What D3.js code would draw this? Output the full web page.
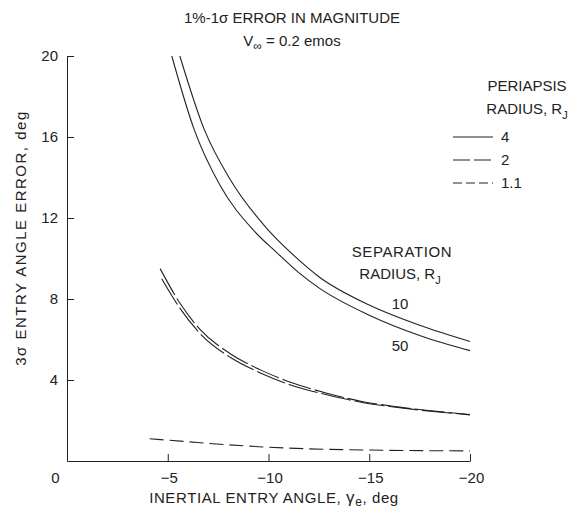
<!DOCTYPE html>
<html><head><meta charset="utf-8">
<script src="https://cdn.jsdelivr.net/npm/d3@7"></script>
<style>
body{margin:0;background:#fff;}
svg text{font-family:"Liberation Sans",Arial,sans-serif;fill:#222;}
</style></head>
<body><svg id="c" width="580" height="517"></svg>
<script>
// ---- data ----
const xTicks = [0, -5, -10, -15, -20];
const yTicks = [4, 8, 12, 16, 20];
// periapsis 4 R_J, separation 10 R_J
const p4s10 = [[-5.6,20],[-6.8,16.4],[-8.1,13.9],[-9.9,11.5],[-11.2,10.2],[-12.5,9.1],[-15,7.7],[-17.5,6.7],[-20,5.9]];
// periapsis 4 R_J, separation 50 R_J
const p4s50 = [[-5.2,20],[-6.3,16.4],[-7.6,13.6],[-9.25,11.4],[-10.4,10.3],[-11.5,9.3],[-12.5,8.55],[-15,7.2],[-17.5,6.2],[-20,5.45]];
// periapsis 2 R_J, separation 10 / 50
const p2s10 = [[-4.62,9.5],[-5.6,7.8],[-6.6,6.5],[-8.1,5.3],[-9.6,4.5],[-11.2,3.85],[-12.9,3.35],[-14.7,2.93],[-16.5,2.66],[-20,2.3]];
const p2s50 = [[-4.7,9.0],[-5.6,7.55],[-6.6,6.3],[-8.1,5.12],[-9.6,4.35],[-11.2,3.72],[-12.9,3.27],[-14.7,2.88],[-16.5,2.63],[-20,2.28]];
// periapsis 1.1 R_J
const p11 = [[-4.1,1.1],[-6,0.95],[-8,0.8],[-10,0.68],[-12,0.6],[-15,0.54],[-20,0.5]];
const legendItems = [{label:"4", dash:null},{label:"2", dash:"17,4"},{label:"1.1", dash:"9,4"}];

// ---- chart ----
const svg = d3.select("#c");
const x = d3.scaleLinear().domain([0,-20]).range([67,470]);
const y = d3.scaleLinear().domain([0,20]).range([461,56]);
const ink = "#222";

// y axis
const yAxis = d3.axisLeft(y).tickValues(yTicks).tickSizeInner(-7).tickSizeOuter(0).tickPadding(9).tickFormat(d3.format("d"));
const gy = svg.append("g").attr("transform","translate(67,0)").call(yAxis);
gy.select(".domain").attr("stroke",ink);
gy.selectAll(".tick line").attr("stroke",ink);
gy.selectAll("text").attr("font-size",15).attr("fill",ink).style("font-family","Liberation Sans");

// x axis
const xAxis = d3.axisBottom(x).tickValues(xTicks).tickSizeInner(-7).tickSizeOuter(0).tickPadding(11)
  .tickFormat(d => d===0 ? "0" : "\u2212" + Math.abs(d));
const gx = svg.append("g").attr("transform","translate(0,461)").call(xAxis);
gx.select(".domain").attr("stroke",ink);
gx.selectAll(".tick line").attr("stroke",ink).attr("opacity", d => d===0?0:1);
gx.selectAll("text").attr("font-size",15).attr("fill",ink).style("font-family","Liberation Sans")
  .attr("dx", d => d===0 ? -12 : 1);

// curves
const line = d3.line().x(d=>x(d[0])).y(d=>y(d[1])).curve(d3.curveMonotoneX);
function curve(data, dash){
  svg.append("path").datum(data).attr("d",line).attr("fill","none")
    .attr("stroke",ink).attr("stroke-width",1.1).attr("stroke-dasharray",dash);
}
curve(p4s10,null);
curve(p4s50,null);
curve(p2s10,"30,4");
curve(p2s50,"30,4");
curve(p11,"14,6");

// titles
svg.append("text").attr("x",292).attr("y",23).attr("text-anchor","middle").attr("font-size",15)
  .text("1%-1\u03C3  ERROR  IN  MAGNITUDE");
const t2 = svg.append("text").attr("x",292).attr("y",46).attr("text-anchor","middle").attr("font-size",15);
t2.append("tspan").text("V");
t2.append("tspan").attr("font-size",12).attr("dy",4).text("\u221E");
t2.append("tspan").attr("dy",-4).text(" = 0.2 emos");

// legend
svg.append("text").attr("x",527).attr("y",91).attr("text-anchor","middle").attr("font-size",15).text("PERIAPSIS");
const lr = svg.append("text").attr("x",527).attr("y",114).attr("text-anchor","middle").attr("font-size",15);
lr.append("tspan").text("RADIUS,  R");
lr.append("tspan").attr("font-size",11).attr("dy",5).text("J");
legendItems.forEach((it,i)=>{
  const yy = 137 + i*23;
  svg.append("line").attr("x1",453).attr("x2",493).attr("y1",yy).attr("y2",yy)
    .attr("stroke",ink).attr("stroke-width",1.1).attr("stroke-dasharray",it.dash);
  svg.append("text").attr("x",501).attr("y",yy+5).attr("font-size",15).text(it.label);
});

// separation labels
svg.append("text").attr("x",402).attr("y",257).attr("text-anchor","middle").attr("font-size",15)
  .attr("letter-spacing",0.6).text("SEPARATION");
const sr = svg.append("text").attr("x",400).attr("y",279).attr("text-anchor","middle").attr("font-size",15);
sr.append("tspan").text("RADIUS,  R");
sr.append("tspan").attr("font-size",11).attr("dy",5).text("J");
svg.append("text").attr("x",400).attr("y",309).attr("text-anchor","middle").attr("font-size",15).text("10");
svg.append("text").attr("x",400).attr("y",351).attr("text-anchor","middle").attr("font-size",15).text("50");

// axis titles
const xt = svg.append("text").attr("x",274).attr("y",503).attr("text-anchor","middle").attr("font-size",15)
  .attr("letter-spacing",0.6);
xt.append("tspan").text("INERTIAL  ENTRY  ANGLE,  ");
xt.append("tspan").attr("font-size",17).text("\u03B3");
xt.append("tspan").attr("font-size",12).attr("dy",3).text("e");
xt.append("tspan").attr("dy",-3).text(",  deg");
svg.append("text").attr("transform","translate(26,238) rotate(-90)").attr("text-anchor","middle").attr("font-size",15)
  .attr("letter-spacing",1.5).text("3\u03C3  ENTRY  ANGLE  ERROR,  deg");
</script></body></html>
